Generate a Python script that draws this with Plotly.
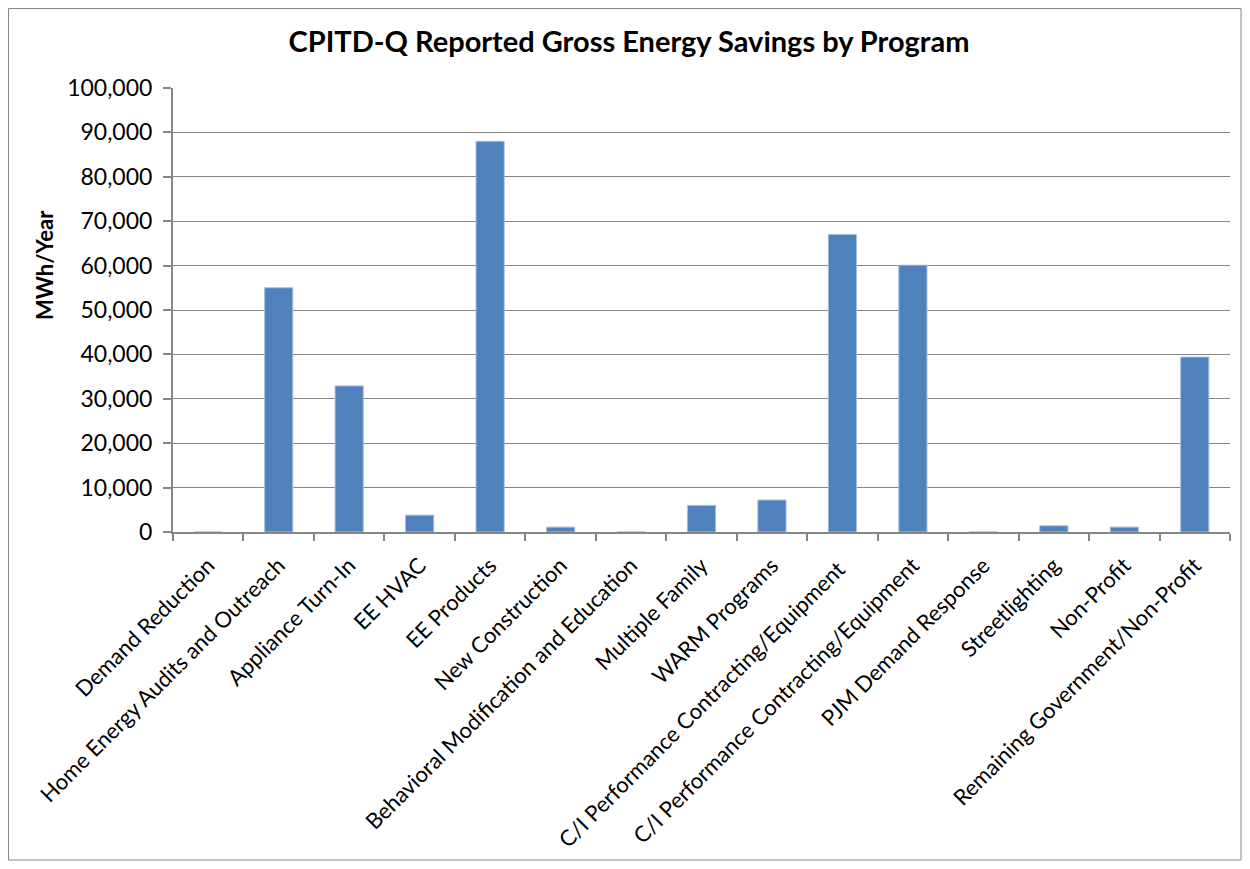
import plotly.graph_objects as go

programs = [
    "Demand Reduction",
    "Home Energy Audits and Outreach",
    "Appliance Turn-In",
    "EE HVAC",
    "EE Products",
    "New Construction",
    "Behavioral Modification and Education",
    "Multiple Family",
    "WARM Programs",
    "C/I Performance Contracting/Equipment ",
    "C/I Performance Contracting/Equipment",
    "PJM Demand Response",
    "Streetlighting",
    "Non-Profit",
    "Remaining Government/Non-Profit",
]
savings = [0, 55000, 32900, 3800, 88000, 1100, 0, 6000, 7200,
           67000, 60100, 0, 1400, 1100, 39400]

y_ticks = list(range(0, 100001, 10000))

fig = go.Figure()
fig.add_trace(go.Bar(
    x=programs,
    y=savings,
    marker=dict(color="#4F81BD", line=dict(width=1, color="#a7bfde")),
))

# page has an 8px body margin; the figure starts at (8, 8)
# plot area on the page: left 173, right 1230, top 88, bottom 532
W, H = 1234, 853
L, T = 165, 80
R = W - (1230 - 8)
B = H - (532 - 8)
pw, ph = W - L - R, H - T - B

fig.update_layout(
    width=W, height=H,
    margin=dict(l=L, r=R, t=T, b=B, autoexpand=False),
    paper_bgcolor="white",
    plot_bgcolor="white",
    font=dict(family="Lato, Carlito, sans-serif", color="black", size=22),
    title=dict(text="<b>CPITD-Q Reported Gross Energy Savings by Program</b>",
               x=(629 - 8) / W, xanchor="center", y=1 - (42 - 8) / H, yanchor="middle",
               font=dict(size=29)),
    bargap=0.6,
    showlegend=False,
)
fig.update_xaxes(
    automargin=False,
    showline=True, linecolor="#868686", linewidth=2,
    ticks="outside", tickson="boundaries", ticklen=7, tickcolor="#868686", tickwidth=2,
    tickangle=-45, showgrid=False, ticklabelstandoff=10,
)
fig.update_yaxes(
    automargin=False,
    range=[0, 100000], tickvals=y_ticks, tickformat=",d",
    tickfont=dict(size=23), ticklabelstandoff=6,
    showline=True, linecolor="#868686", linewidth=2,
    ticks="outside", ticklen=8, tickcolor="#868686", tickwidth=2,
    showgrid=True, gridcolor="#868686", gridwidth=1,
    zeroline=False,
)

# y-axis title (sits a little above the plot centre, as in the original)
fig.add_annotation(
    text="<b>MWh/Year</b>", textangle=-90, showarrow=False,
    xref="paper", yref="paper",
    x=(44 - 173) / pw, y=(532 - 265) / ph,
    xanchor="center", yanchor="middle",
    font=dict(size=22),
)

# chart border
fig.add_shape(
    type="rect", xref="paper", yref="paper",
    x0=(0.5 - L) / pw, x1=(1233 - L) / pw,
    y0=(H - B - 852) / ph, y1=(H - B - 0.5) / ph,
    line=dict(color="#868686", width=1), layer="below",
)

fig.write_html("out.html")
